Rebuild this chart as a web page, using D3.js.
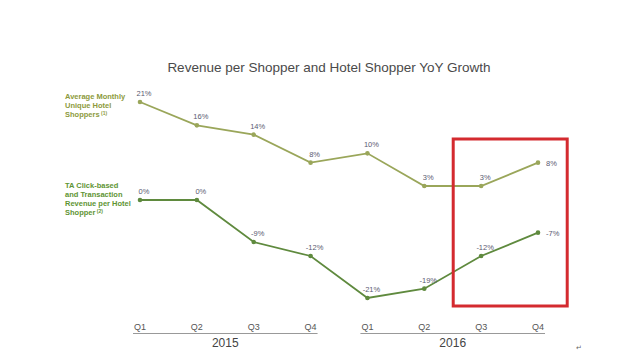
<!DOCTYPE html>
<html><head><meta charset="utf-8">
<script src="https://cdn.jsdelivr.net/npm/d3@7"></script>
<style>body{margin:0;background:#fff}svg{display:block;font-family:"Liberation Sans",Arial,sans-serif}</style>
</head><body><svg id="c" width="640" height="351"></svg>
<script>
const quarters = ["Q1","Q2","Q3","Q4","Q1","Q2","Q3","Q4"];
const years = ["2015","2016"];
const shoppers = [21,16,14,8,10,3,3,8];
const revenue = [0,0,-9,-12,-21,-19,-12,-7];
const labelsShoppers = ["21%","16%","14%","8%","10%","3%","3%","8%"];
const labelsRevenue = ["0%","0%","-9%","-12%","-21%","-19%","-12%","-7%"];
const legendShoppers = ["Average Monthly","Unique Hotel","Shoppers"];
const legendRevenue = ["TA Click-based","and Transaction","Revenue per Hotel","Shopper"];

const svg = d3.select("#c");
const idx = d3.range(quarters.length);
const x = d3.scaleLinear().domain([0,7]).range([140,538]);
const y = d3.scaleLinear().domain([-21,21]).range([298,102]);

svg.append("text").attr("x",329).attr("y",72).attr("text-anchor","middle")
  .attr("font-size",13.5).attr("fill","#4a4a4a").text("Revenue per Shopper and Hotel Shopper YoY Growth");

const series = [
  {vals:shoppers, labels:labelsShoppers, color:"#9aa65a"},
  {vals:revenue, labels:labelsRevenue, color:"#5f8a3e"}
];
const line = d3.line().x(i=>x(i));
series.forEach(s=>{
  svg.append("path").datum(idx).attr("fill","none").attr("stroke",s.color).attr("stroke-width",1.8)
    .attr("d", line.y(i=>y(s.vals[i])));
  svg.selectAll(null).data(idx).enter().append("circle")
    .attr("cx",i=>x(i)).attr("cy",i=>y(s.vals[i])).attr("r",2.3).attr("fill",s.color);
  svg.selectAll(null).data(idx).enter().append("text")
    .attr("x",i=> i===7 ? x(i)+8 : x(i)+4)
    .attr("y",i=> i===7 ? y(s.vals[i])+3 : y(s.vals[i])-6)
    .attr("text-anchor",i=> i===7 ? "start":"middle")
    .attr("font-size",7.5).attr("fill","#5a5a72").text(i=>s.labels[i]);
});

// left legends
const lg1 = svg.append("text").attr("font-size",7.5).attr("font-weight","bold").attr("fill","#8c9a3c");
legendShoppers.forEach((t,i)=>{
  lg1.append("tspan").attr("x",65).attr("y",99+i*9).text(t);
  if(i===legendShoppers.length-1) lg1.append("tspan").attr("font-size",5).attr("dy",-2).text(" (1)");
});
const lg2 = svg.append("text").attr("font-size",7.5).attr("font-weight","bold").attr("fill","#5e9433");
legendRevenue.forEach((t,i)=>{
  lg2.append("tspan").attr("x",65).attr("y",188+i*9).text(t);
  if(i===legendRevenue.length-1) lg2.append("tspan").attr("font-size",5).attr("dy",-2).text(" (2)");
});

// axis
svg.selectAll(null).data(idx).enter().append("text")
  .attr("x",i=>x(i)).attr("y",330).attr("text-anchor","middle")
  .attr("font-size",9).attr("fill","#555").text(i=>quarters[i]);
years.forEach((yr,k)=>{
  const x0 = x(k*4)-7, x1 = x(k*4+3)+7;
  svg.append("line").attr("x1",x0).attr("x2",x1).attr("y1",333.5).attr("y2",333.5)
    .attr("stroke","#999").attr("stroke-width",1);
  svg.append("text").attr("x",(x0+x1)/2).attr("y",347).attr("text-anchor","middle")
    .attr("font-size",12).attr("fill","#444").text(yr);
});

// highlight box
svg.append("rect").attr("x",(x(5)+x(6))/2+0.5).attr("y",139).attr("width",114).attr("height",167)
  .attr("fill","none").attr("stroke","#d42a2f").attr("stroke-width",3);

svg.append("text").attr("x",576).attr("y",350).attr("font-size",7).attr("fill","#666").text("↵");
</script></body></html>
